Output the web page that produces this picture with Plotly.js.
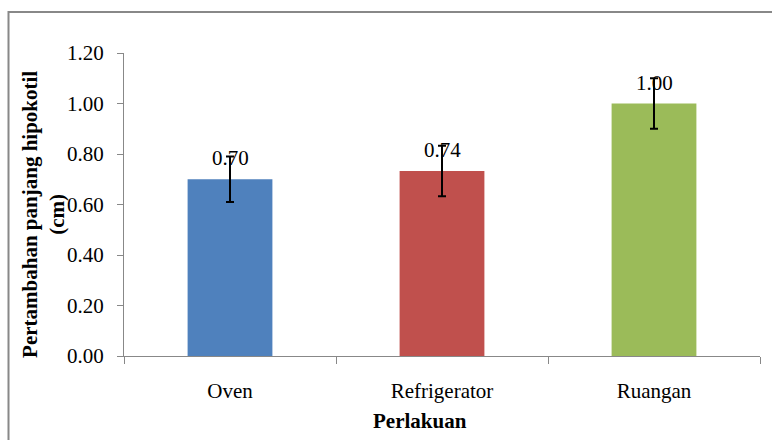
<!DOCTYPE html>
<html>
<head>
<meta charset="utf-8">
<script src="https://cdn.plot.ly/plotly-3.0.1.min.js"></script>
<style>html,body{margin:0;padding:0;background:#fff;}#chart{width:772px;height:440px;}</style>
</head>
<body>
<div id="chart"></div>
<script>
const categories = ["Oven", "Refrigerator", "Ruangan"];
const values = [0.70, 0.733, 1.00];
const errors = [0.09, 0.10, 0.10];
const valueLabels = ["0.70", "0.74", "1.00"];
const colors = ["#4F81BD", "#C0504D", "#9BBB59"];
const yTickVals = [0, 0.2, 0.4, 0.6, 0.8, 1.0, 1.2];

const font = "Liberation Serif";

const trace = {
  type: "bar",
  x: categories,
  y: values,
  marker: {color: colors},
  error_y: {type: "data", array: errors, visible: true, color: "#000", thickness: 2, width: 4},
  hoverinfo: "skip"
};

const annotations = categories.map((c, i) => ({
  x: c, y: values[i], xref: "x", yref: "y",
  text: valueLabels[i], showarrow: false,
  yanchor: "middle", xanchor: "center", yshift: 21,
  font: {family: font, size: 21, color: "#000"}
}));

annotations.push({
  xref: "paper", yref: "paper", x: -0.1258, y: 0.469,
  xanchor: "center", yanchor: "middle", textangle: -90, showarrow: false,
  text: "<b>Pertambahan panjang hipokotil<br>(cm)</b>",
  font: {family: font, size: 21, color: "#000"}
});
annotations.push({
  xref: "paper", yref: "paper", x: 0.4654, y: -0.2145,
  xanchor: "center", yanchor: "middle", showarrow: false,
  text: "<b>Perlakuan</b>",
  font: {family: font, size: 21, color: "#000"}
});

const layout = {
  width: 772, height: 440,
  margin: {l: 124, r: 12, t: 53, b: 84},
  paper_bgcolor: "#fff", plot_bgcolor: "#fff",
  showlegend: false,
  bargap: 0.6,
  font: {family: font, size: 21, color: "#000"},
  xaxis: {
    type: "category",
    showline: true, linecolor: "#888", linewidth: 1,
    ticks: "outside", tickson: "boundaries", ticklen: 7, tickcolor: "#888",
    ticklabelstandoff: 16,
    showgrid: false, zeroline: false,
    tickfont: {family: font, size: 21, color: "#000"}
  },
  yaxis: {
    range: [0, 1.2], tickvals: yTickVals, tickformat: ".2f",
    showline: true, linecolor: "#888", linewidth: 1,
    ticks: "outside", ticklen: 6, tickcolor: "#888",
    ticklabelstandoff: 9,
    showgrid: false, zeroline: false,
    tickfont: {family: font, size: 21, color: "#000"}
  },
  annotations: annotations,
  shapes: [{
    type: "rect", xref: "paper", yref: "paper",
    x0: -0.1816, y0: 1.1353, x1: 1.03, y1: -0.3,
    line: {color: "#888", width: 2}, fillcolor: "rgba(0,0,0,0)", layer: "below"
  }]
};

Plotly.newPlot("chart", [trace], layout, {displayModeBar: false, staticPlot: true});
</script>
</body>
</html>
